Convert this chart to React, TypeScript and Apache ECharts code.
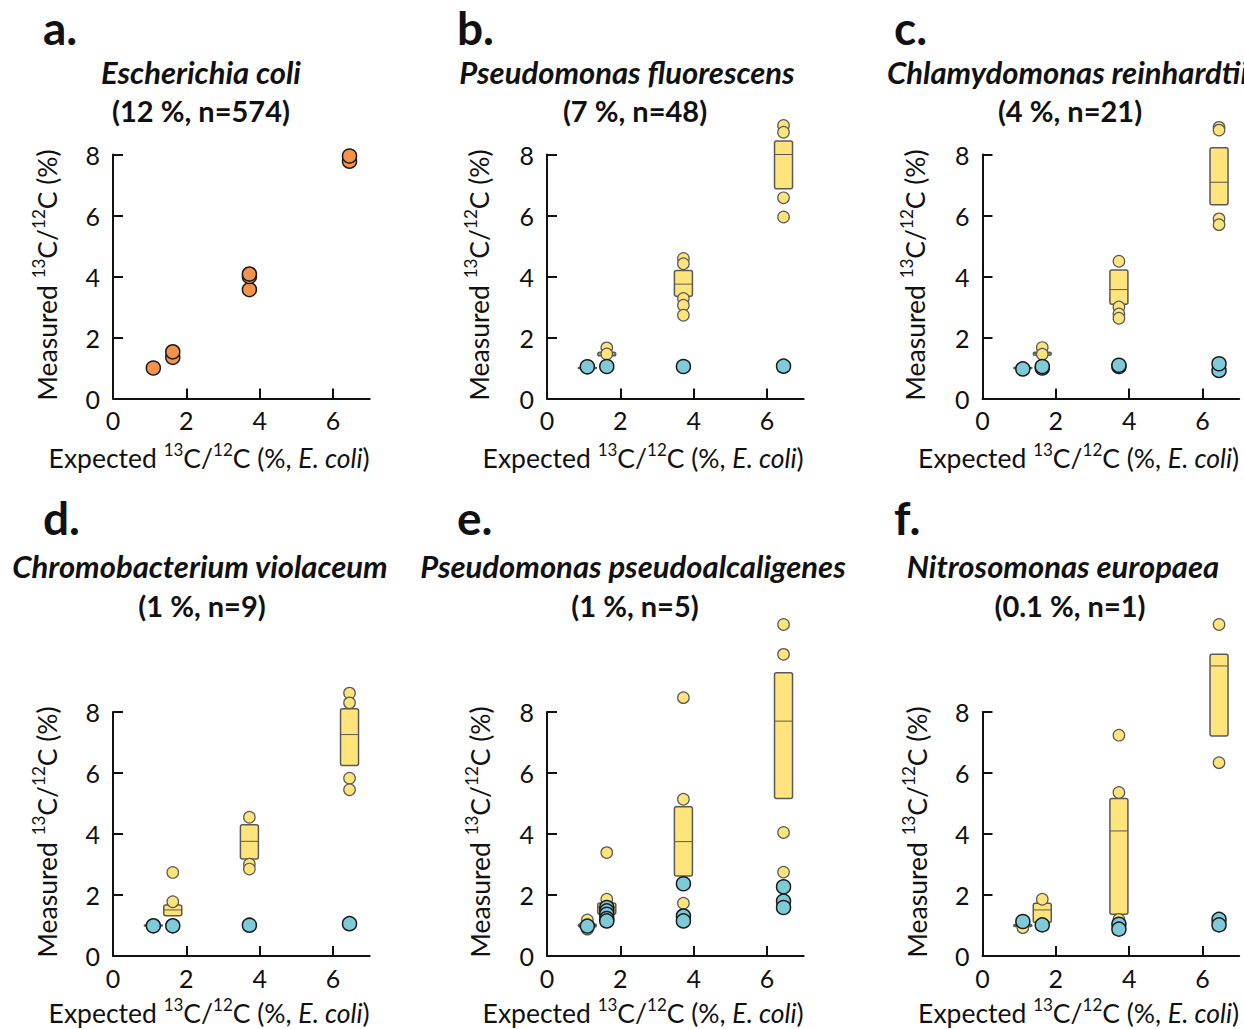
import React, { useEffect, useRef } from 'react';
import * as echarts from 'echarts';

// ---------- data ----------
const X_EXPECTED = [1.1, 1.63, 3.72, 6.45];
const X_TICKS = [0, 2, 4, 6];
const Y_TICKS = [0, 2, 4, 6, 8];

// a. Escherichia coli
const ecoliOrange = [[1.0], [1.35, 1.53], [3.57, 4.0, 4.08], [7.78, 7.95]];

// b. Pseudomonas fluorescens
const pfluYellow = [[1.0], [1.66, 1.46], [4.59, 4.42, 3.28, 3.06, 2.73], [8.95, 8.73, 6.58, 5.95]];
const pfluBox = [[0.98, 1.0, 1.02], [1.4, 1.46, 1.52], [3.35, 3.75, 4.2], [6.88, 8.0, 8.44]];
const pfluBlue = [[1.04], [1.05], [1.05], [1.06]];

// c. Chlamydomonas reinhardtii
const creiYellow = [[1.0], [1.67, 1.45], [4.5, 3.0, 2.77, 2.63], [8.89, 8.8, 5.89, 5.7]];
const creiBox = [[0.98, 1.0, 1.02], [1.42, 1.47, 1.52], [3.09, 3.57, 4.21], [6.35, 7.09, 8.22]];
const creiBlue = [[0.97], [1.0, 1.05], [1.05, 1.09], [0.92, 1.14]];

// d. Chromobacterium violaceum
const cvioYellow = [[1.0], [2.74, 1.78, 1.0], [4.55, 3.01, 2.85], [8.62, 8.3, 5.83, 5.45]];
const cvioBox = [[0.98, 1.0, 1.02], [1.32, 1.51, 1.67], [3.18, 3.76, 4.3], [6.25, 7.26, 8.11]];
const cvioBlue = [[0.99], [0.99], [1.01], [1.06]];

// e. Pseudomonas pseudoalcaligenes
const ppsYellow = [[1.18, 0.88], [3.39, 1.86], [8.47, 5.14, 1.73], [10.87, 9.89, 4.05, 2.75]];
const ppsBox = [[0.95, 1.0, 1.05], [1.37, 1.6, 1.74], [2.62, 3.75, 4.89], [5.16, 7.7, 9.29]];
const ppsBlue = [[0.98], [1.59, 1.48, 1.37, 1.23, 1.15], [2.37, 1.31, 1.15], [2.27, 1.8, 1.59]];

// f. Nitrosomonas europaea
const neurYellow = [[0.93], [1.86], [7.24, 5.36, 1.2], [10.87, 6.34]];
const neurBox = [[0.97, 1.0, 1.03], [1.1, 1.51, 1.73], [1.37, 4.1, 5.16], [7.21, 9.51, 9.89]];
const neurBlue = [[1.13], [1.02], [1.04, 0.88], [1.2, 1.02]];

const PANELS: any[] = [
  { letter: 'a.', name: 'Escherichia coli', sub: '(12 %, n=574)', orange: ecoliOrange },
  { letter: 'b.', name: 'Pseudomonas fluorescens', sub: '(7 %, n=48)', yellow: pfluYellow, box: pfluBox, blue: pfluBlue },
  { letter: 'c.', name: 'Chlamydomonas reinhardtii', sub: '(4 %, n=21)', yellow: creiYellow, box: creiBox, blue: creiBlue },
  { letter: 'd.', name: 'Chromobacterium violaceum', sub: '(1 %, n=9)', yellow: cvioYellow, box: cvioBox, blue: cvioBlue },
  { letter: 'e.', name: 'Pseudomonas pseudoalcaligenes', sub: '(1 %, n=5)', yellow: ppsYellow, box: ppsBox, blue: ppsBlue },
  { letter: 'f.', name: 'Nitrosomonas europaea', sub: '(0.1 %, n=1)', yellow: neurYellow, box: neurBox, blue: neurBlue },
];

// ---------- layout ----------
const COL_LEFT = [113, 547, 982.5];
const ROW_TOP = [154.5, 712];
const GRID_W = 256.7;
const GRID_H = 244;
const XNAME_Y = [458.3, 1013];
const YNAME_Y = [275, 832];
const LETTER_X = [43, 457, 894];
const LETTER_Y = [27.5, 517.5];
const TITLE_Y = [72, 566];
const SUB_Y = [110, 605.5];
const TITLE_X = [[201, 'center'], [627, 'center'], [887, 'left'], [200, 'center'], [633, 'center'], [1063, 'center']];
const SUB_X = [201, 635, 1070, 202, 635, 1070];
const YNAME_X = [47, 479, 915, 47, 480, 917];

const FONT = 'Lato';
const INK = '#111111';
const ORANGE = '#F5924B';
const YELLOW = '#FFE47C';
const BLUE = '#7FCAD9';
const GREY = '#595959';

function toPoints(groups: number[][]) {
  const out: number[][] = [];
  groups.forEach((vals, i) => vals.forEach((v) => out.push([X_EXPECTED[i], v])));
  return out;
}

function toBoxes(groups: number[][]) {
  return groups.map((b, i) => [X_EXPECTED[i], b[0], b[1], b[2]]);
}

function buildOption() {
  const grid: any[] = [];
  const xAxis: any[] = [];
  const yAxis: any[] = [];
  const series: any[] = [];
  const elements: any[] = [];

  const axisCommon = {
    axisLine: { show: true, lineStyle: { color: INK, width: 2 } },
    splitLine: { show: false },
  };

  PANELS.forEach((p, i) => {
    const col = i % 3;
    const row = Math.floor(i / 3);
    grid.push({ left: COL_LEFT[col], top: ROW_TOP[row], width: GRID_W, height: GRID_H, containLabel: false });
    xAxis.push({
      ...axisCommon,
      gridIndex: i,
      type: 'value',
      min: 0,
      max: 7,
      interval: 2,
      axisTick: { show: true, inside: true, length: 10, lineStyle: { color: INK, width: 2 }, customValues: X_TICKS },
      axisLabel: { customValues: X_TICKS, fontSize: 25, fontFamily: FONT, color: INK, margin: 9 },
    });
    yAxis.push({
      ...axisCommon,
      gridIndex: i,
      type: 'value',
      min: 0,
      max: 8,
      interval: 2,
      axisTick: { show: true, inside: true, length: 10, lineStyle: { color: INK, width: 2 }, customValues: Y_TICKS },
      axisLabel: { customValues: Y_TICKS, fontSize: 25, fontFamily: FONT, color: INK, margin: 13 },
    });

    if (p.orange) {
      series.push({
        type: 'scatter', xAxisIndex: i, yAxisIndex: i, clip: false,
        symbol: 'circle', symbolSize: 14,
        itemStyle: { color: ORANGE, borderColor: '#1a1a1a', borderWidth: 1.5, opacity: 1 },
        data: toPoints(p.orange),
      });
    }
    if (p.yellow) {
      series.push({
        type: 'scatter', xAxisIndex: i, yAxisIndex: i, clip: false,
        symbol: 'circle', symbolSize: 11.5,
        itemStyle: { color: YELLOW, borderColor: GREY, borderWidth: 1.2, opacity: 1 },
        data: toPoints(p.yellow),
      });
      series.push({
        type: 'custom', xAxisIndex: i, yAxisIndex: i, clip: false,
        encode: { x: 0, y: [1, 2, 3] },
        data: toBoxes(p.box),
        renderItem: (params: any, api: any) => {
          const x = api.value(0);
          const lo = api.coord([x, api.value(1)]);
          const md = api.coord([x, api.value(2)]);
          const hi = api.coord([x, api.value(3)]);
          const w = 18;
          return {
            type: 'group',
            children: [
              { type: 'rect', shape: { x: lo[0] - w / 2, y: hi[1], width: w, height: lo[1] - hi[1], r: 2 },
                style: { fill: YELLOW, stroke: GREY, lineWidth: 1.5 } },
              { type: 'line', shape: { x1: md[0] - w / 2, y1: md[1], x2: md[0] + w / 2, y2: md[1] },
                style: { stroke: GREY, lineWidth: 1 } },
            ],
          };
        },
      });
      series.push({
        type: 'scatter', xAxisIndex: i, yAxisIndex: i, clip: false,
        symbol: 'circle', symbolSize: 14,
        itemStyle: { color: BLUE, borderColor: '#1a1a1a', borderWidth: 1.5, opacity: 1 },
        data: toPoints(p.blue),
      });
    }

    // texts
    elements.push({
      type: 'text', x: LETTER_X[col], y: LETTER_Y[row],
      style: { text: p.letter, fill: INK, fontSize: 46, fontWeight: 'bold', fontFamily: FONT,
        align: 'left', verticalAlign: 'middle', textAlign: 'left', textVerticalAlign: 'middle' },
    });
    const [tx, ta] = TITLE_X[i] as [number, string];
    elements.push({
      type: 'text', x: tx, y: TITLE_Y[row],
      style: { text: p.name, fill: INK, fontSize: 31, fontWeight: 'bold', fontStyle: 'italic', fontFamily: FONT,
        align: ta, verticalAlign: 'middle', textAlign: ta, textVerticalAlign: 'middle' },
    });
    elements.push({
      type: 'text', x: SUB_X[i], y: SUB_Y[row],
      style: { text: p.sub, fill: INK, fontSize: 29, fontWeight: 'bold', fontFamily: FONT,
        align: 'center', verticalAlign: 'middle', textAlign: 'center', textVerticalAlign: 'middle' },
    });
    const rich = {
      sup: { fontSize: 17, fontFamily: FONT, fill: INK, verticalAlign: 'top', lineHeight: 15 },
      it: { fontSize: 26.5, fontFamily: FONT, fill: INK, fontStyle: 'italic', lineHeight: 34 },
    };
    elements.push({
      type: 'text', x: COL_LEFT[col] + GRID_W, y: XNAME_Y[row],
      style: { text: 'Expected {sup|13}C/{sup|12}C (%, {it|E. coli})', fill: INK, fontSize: 26.5, fontFamily: FONT,
        lineHeight: 34, rich, align: 'right', verticalAlign: 'middle', textAlign: 'right', textVerticalAlign: 'middle' },
    });
    elements.push({
      type: 'text', x: YNAME_X[i], y: YNAME_Y[row], rotation: Math.PI / 2,
      style: { text: 'Measured {sup|13}C/{sup|12}C (%)', fill: INK, fontSize: 26.5, fontFamily: FONT,
        lineHeight: 34, rich, align: 'center', verticalAlign: 'middle', textAlign: 'center', textVerticalAlign: 'middle' },
    });
  });

  return {
    animation: false,
    backgroundColor: '#ffffff',
    grid, xAxis, yAxis, series,
    graphic: { elements },
  };
}

export default function App() {
  const ref = useRef<HTMLDivElement>(null);
  useEffect(() => {
    if (!ref.current) return;
    const chart = echarts.init(ref.current, undefined, { renderer: 'svg' });
    chart.setOption(buildOption() as any);
    return () => chart.dispose();
  }, []);
  return (
    <div
      ref={ref}
      style={{ position: 'fixed', left: 0, top: 0, width: 1244, height: 1029, background: '#fff' }}
    />
  );
}
